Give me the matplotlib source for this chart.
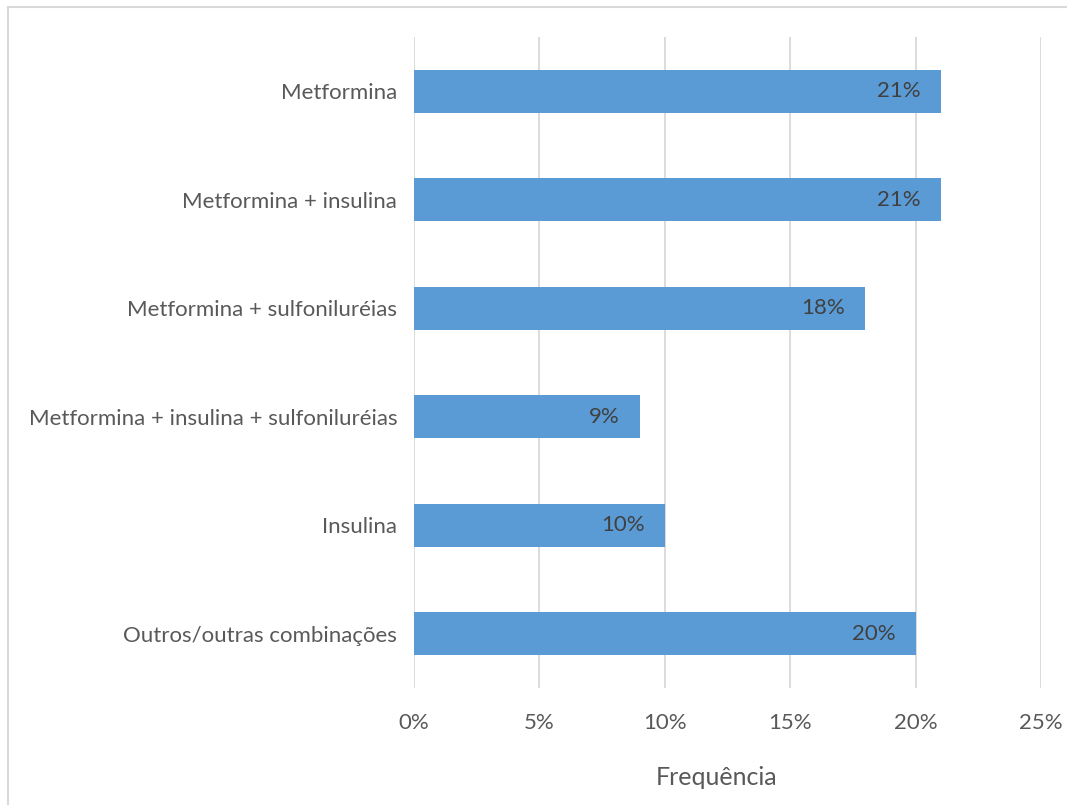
import matplotlib
matplotlib.use("Agg")
import matplotlib.pyplot as plt
from matplotlib.patches import Rectangle

categories = ["Metformina", "Metformina + insulina", "Metformina + sulfoniluréias",
              "Metformina + insulina + sulfoniluréias", "Insulina", "Outros/outras combinações"]
values = [21, 21, 18, 9, 10, 20]
ticks = [0, 5, 10, 15, 20, 25]
tick_labels = ["0%", "5%", "10%", "15%", "20%", "25%"]

plt.rcParams['font.family'] = ['Lato', 'DejaVu Sans']
text_col = '#595959'

fig = plt.figure(figsize=(10.67, 8.05), dpi=100)
fig.patches.append(Rectangle((8/1067, -0.01), 1.02, 1.01 - 7/805 + 0.0, transform=fig.transFigure,
                             fill=False, edgecolor='#d9d9d9', linewidth=1.5))
ax = fig.add_axes([414/1067, 1 - 688/805, (1041 - 414)/1067, (688 - 37)/805])

y = list(range(len(categories)))[::-1]
ax.barh(y, values, height=0.4, color='#5B9BD5', zorder=3)
for yi, v in zip(y, values):
    ax.text(v - 0.8, yi, f"{v}%", ha='right', va='center', fontsize=16, color='#404040', zorder=4)

ax.set_xlim(0, 25)
ax.set_ylim(-0.5, 5.5)
ax.set_xticks(ticks)
ax.set_xticklabels(tick_labels, fontsize=16, color=text_col)
ax.set_yticks(y)
ax.set_yticklabels(categories, fontsize=16, color=text_col)
ax.tick_params(axis='both', length=0)
ax.tick_params(axis='x', pad=18)
ax.tick_params(axis='y', pad=12)
ax.grid(axis='x', color='#d9d9d9', linewidth=1.3, zorder=0)
for s in ax.spines.values():
    s.set_visible(False)
ax.set_xlabel("Frequência", fontsize=18, color=text_col, va='center')
ax.xaxis.set_label_coords(0.482, -0.137)

fig.savefig("out.png", dpi=100)
